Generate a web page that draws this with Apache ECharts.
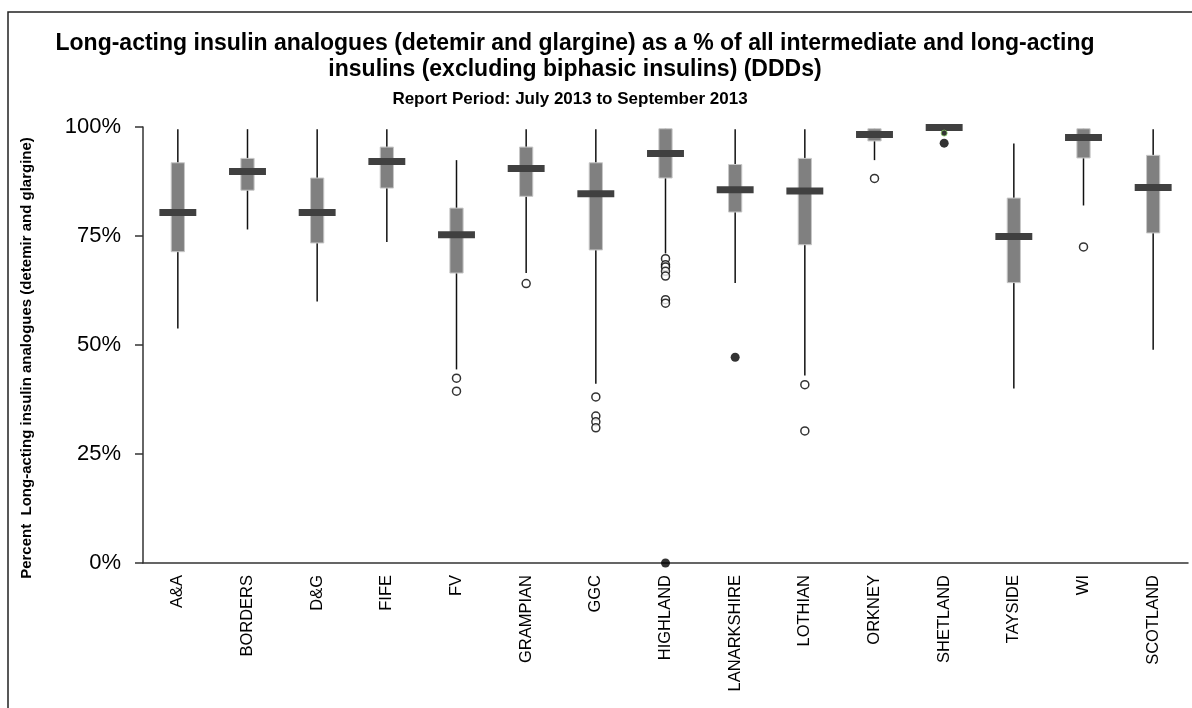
<!DOCTYPE html>
<html>
<head>
<meta charset="utf-8">
<title>Long-acting insulin analogues</title>
<script src="https://cdn.jsdelivr.net/npm/echarts@6/dist/echarts.min.js"></script>
<style>
  html, body { margin: 0; padding: 0; background: #fff; }
  #chart { width: 1192px; height: 708px; }
</style>
</head>
<body>
<div id="chart"></div>
<script>
// health boards
var categories = ["A&A", "BORDERS", "D&G", "FIFE", "FV", "GRAMPIAN", "GGC", "HIGHLAND",
  "LANARKSHIRE", "LOTHIAN", "ORKNEY", "SHETLAND", "TAYSIDE", "WI", "SCOTLAND"];

// box plot stats (%)
var whiskerLow  = [53.8, 76.5, 60.0, 73.6, 44.4, 66.5, 41.1, 71.0, 64.2, 43.0, 92.4, 99.2, 40.0, 82.0, 48.9];
var quartile1   = [71.4, 85.5, 73.4, 86.0, 66.5, 84.1, 71.8, 88.3, 80.5, 73.0, 96.8, 99.5, 64.3, 92.9, 75.7];
var medians     = [80.4, 89.8, 80.4, 92.1, 75.3, 90.5, 84.7, 93.9, 85.6, 85.3, 98.3, 99.9, 74.9, 97.6, 86.1];
var quartile3   = [91.8, 92.8, 88.3, 95.4, 81.4, 95.4, 91.8, 99.6, 91.4, 92.8, 99.6, 100, 83.7, 99.6, 93.5];
var whiskerHigh = [99.5, 99.5, 99.5, 99.5, 92.4, 99.5, 99.5, 99.6, 99.5, 99.5, 99.6, 100, 96.2, 99.6, 99.5];

// outliers: [category index, value]
var outliersOpen = [
  [4, 42.4], [4, 39.4],
  [5, 64.1],
  [6, 38.1], [6, 33.7], [6, 32.4], [6, 31.0],
  [7, 69.8], [7, 68.4], [7, 67.9], [7, 66.9], [7, 65.8], [7, 60.4], [7, 59.6],
  [9, 40.9], [9, 30.3],
  [10, 88.2],
  [13, 72.5]
];
var outliersFilled = [[7, 0], [8, 47.2], [11, 96.3]];
var outliersSmall = [[11, 98.6]];

var yTicks = [0, 25, 50, 75, 100];

var boxData = categories.map(function (c, i) {
  return [i, whiskerLow[i], quartile1[i], medians[i], quartile3[i], whiskerHigh[i]];
});

function renderBox(params, api) {
  var i = api.value(0);
  var lo = api.coord([i, api.value(1)]);
  var b1 = api.coord([i, api.value(2)]);
  var md = api.coord([i, api.value(3)]);
  var b3 = api.coord([i, api.value(4)]);
  var hi = api.coord([i, api.value(5)]);
  var w = api.size([1, 0])[0];
  var bw = w * 0.19;
  var mw = w * 0.53;
  var mh = 7;
  return {
    type: "group",
    children: [
      { type: "line", shape: { x1: lo[0], y1: lo[1], x2: hi[0], y2: hi[1] },
        style: { stroke: "#111", lineWidth: 1.5 } },
      { type: "rect", shape: { x: b1[0] - bw / 2, y: b3[1], width: bw, height: b1[1] - b3[1] },
        style: { fill: "#808080", stroke: "#c8c8c8", lineWidth: 1 } },
      { type: "rect", shape: { x: md[0] - mw / 2, y: md[1] - mh / 2, width: mw, height: mh },
        style: { fill: "#404040" } }
    ]
  };
}

var chart = echarts.init(document.getElementById("chart"));
var font = "Liberation Sans, Arial, sans-serif";

var option = {
  animation: false,
  textStyle: { fontFamily: font },
  title: [
    {
      text: "Long-acting insulin analogues (detemir and glargine) as a % of all intermediate and long-acting\ninsulins (excluding biphasic insulins) (DDDs)",
      left: 570,
      top: 26,
      textAlign: "center",
      textStyle: { fontSize: 23, fontWeight: "bold", lineHeight: 26, color: "#000", fontFamily: font }
    },
    {
      text: "Report Period: July 2013 to September 2013",
      left: 565,
      top: 86,
      textAlign: "center",
      textStyle: { fontSize: 17, fontWeight: "bold", lineHeight: 16, color: "#000", fontFamily: font }
    }
  ],
  graphic: [
    { type: "rect", shape: { x: 8, y: 12, width: 1200, height: 720 },
      style: { fill: "none", stroke: "#222", lineWidth: 1.5 }, silent: true }
  ],
  grid: { left: 143, right: 4, top: 127, bottom: 145 },
  xAxis: {
    type: "category",
    data: categories,
    axisLine: { lineStyle: { color: "#333", width: 1.5 } },
    axisTick: { length: 5, lineStyle: { color: "#333", width: 1.5 } },
    axisLabel: { rotate: 90, fontSize: 16.5, color: "#000", margin: 12, interval: 0 }
  },
  yAxis: {
    type: "value",
    min: 0,
    max: 100,
    interval: 25,
    name: "Percent  Long-acting insulin analogues (detemir and glargine)",
    nameLocation: "middle",
    nameGap: 109,
    nameTextStyle: { fontSize: 15, fontWeight: "bold", color: "#000", padding: [0, 26, 0, 0] },
    axisLine: { show: true, lineStyle: { color: "#333", width: 1.5 } },
    axisTick: { show: true, length: 8, lineStyle: { color: "#333", width: 1.5 } },
    axisLabel: {
      fontSize: 22, color: "#000", margin: 22,
      customValues: yTicks,
      formatter: function (v) { return v + "%"; }
    },
    splitLine: { show: false }
  },
  series: [
    {
      type: "custom",
      renderItem: renderBox,
      data: boxData,
      encode: { x: 0, y: [1, 2, 3, 4, 5] },
      z: 2
    },
    {
      type: "scatter",
      data: outliersOpen,
      symbol: "circle",
      symbolSize: 8,
      itemStyle: { color: "#fff", borderColor: "#000", borderWidth: 1.5 },
      z: 3
    },
    {
      type: "scatter",
      data: outliersFilled,
      symbol: "circle",
      symbolSize: 9,
      itemStyle: { color: "#000" },
      z: 4
    },
    {
      type: "scatter",
      data: outliersSmall,
      symbol: "circle",
      symbolSize: 6,
      itemStyle: { color: "#000", borderColor: "#8c6", borderWidth: 1 },
      z: 4
    }
  ]
};

chart.setOption(option);
</script>
</body>
</html>
